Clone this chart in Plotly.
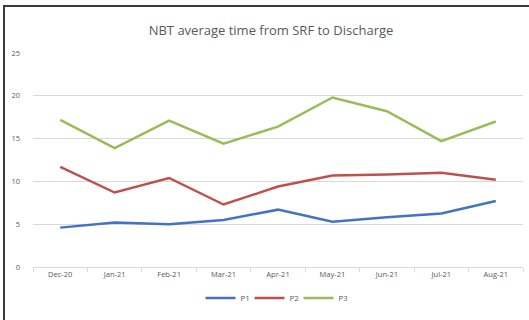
import plotly.graph_objects as go

months = ["Dec-20", "Jan-21", "Feb-21", "Mar-21", "Apr-21", "May-21", "Jun-21", "Jul-21", "Aug-21"]
p1 = [4.6, 5.2, 5.0, 5.5, 6.7, 5.3, 5.8, 6.25, 7.7]
p2 = [11.7, 8.7, 10.4, 7.3, 9.4, 10.7, 10.8, 11.0, 10.2]
p3 = [17.2, 13.9, 17.1, 14.4, 16.4, 19.8, 18.2, 14.7, 17.0]
y_ticks = [0, 5, 10, 15, 20, 25]

series = [("P1", p1, "#4472C4"), ("P2", p2, "#C0504D"), ("P3", p3, "#9BBB59")]

fig = go.Figure()
for name, vals, color in series:
    fig.add_trace(go.Scatter(x=months, y=vals, name=name, mode="lines",
                             line=dict(color=color, width=2.5)))

W, H = 529, 320
L, R, T, B = 33, 6, 53, 53
pw, ph = W - L - R, H - T - B

def px_x(p):
    return (p - L) / pw

def px_y(p):
    return (H - B - p) / ph

fig.update_layout(
    width=W, height=H,
    margin=dict(l=L, r=R, t=T, b=B),
    paper_bgcolor="white", plot_bgcolor="white",
    font=dict(family="Open Sans", color="#595959"),
    title=dict(text="NBT average time from SRF to Discharge",
               x=px_x(271), xref="paper", xanchor="center",
               y=1 - 30 / H, yanchor="middle",
               font=dict(size=13, color="#595959")),
    showlegend=True,
    legend=dict(orientation="h", x=px_x(274), xanchor="center",
                y=px_y(298), yanchor="middle",
                font=dict(size=8, color="#595959"),
                itemwidth=30, entrywidth=4, entrywidthmode="pixels",
                tracegroupgap=0, bgcolor="rgba(0,0,0,0)"),
    xaxis=dict(type="category", showgrid=False, showline=True,
               linecolor="#d9d9d9", linewidth=1,
               ticks="outside", tickson="boundaries", ticklen=4,
               tickcolor="#d9d9d9", tickfont=dict(size=7.5, color="#595959"),
               range=[-0.5, len(months) - 0.5]),
    yaxis=dict(range=[0, 25], tickvals=y_ticks, showgrid=True,
               gridcolor="#d9d9d9", gridwidth=1, zeroline=False,
               showline=False, ticks="", ticklabelstandoff=12,
               tickfont=dict(size=7.5, color="#595959")),
    shapes=[
        dict(type="rect", xref="paper", yref="paper",
             x0=px_x(4), x1=px_x(540), y0=px_y(330), y1=px_y(6),
             line=dict(color="#3a3a3a", width=2), fillcolor="rgba(0,0,0,0)",
             layer="below"),
    ],
)

fig.write_html("out.html")
